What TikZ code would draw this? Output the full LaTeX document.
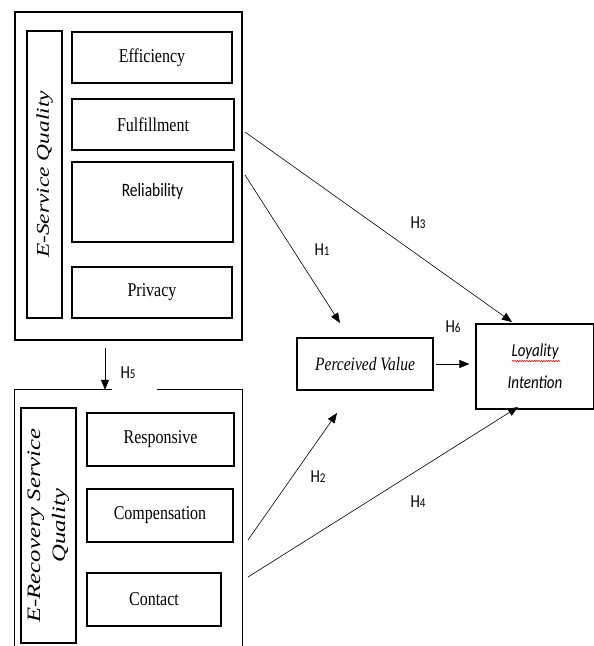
\documentclass[tikz,border=0pt]{standalone}
\usepackage{fontspec}
\setmainfont{Liberation Serif}
\newfontfamily\calibri{Carlito}
\usepackage{graphicx}
\usetikzlibrary{arrows.meta,positioning,calc,decorations.pathmorphing}

% text in the reference is drawn a little taller than wide
\newcommand{\tallt}[1]{\scalebox{1}[1.22]{#1}}
\newcommand{\widet}[1]{\scalebox{1.3}[1]{#1}}
\newcommand{\hyp}[1]{\tallt{\calibri\fontsize{15}{18}\selectfont H\fontsize{11}{12}\selectfont #1}}

\tikzset{
  box/.style={draw, line width=1.2pt, inner sep=0pt, font=\fontsize{16}{19}\selectfont},
  frame/.style={draw, line width=1.3pt, inner sep=0pt},
  frameline/.style={line width=1.3pt},
  link/.style={line width=0.6pt, -{Triangle[length=10pt,width=8pt]}},
}

\begin{document}
\begin{tikzpicture}[x=1pt, y=-1pt]
\useasboundingbox (0,0) rectangle (594,646);

% E-Service Quality block
\node[frame, minimum width=227pt, minimum height=328pt] (esq) at (128.5,176) {};
\node[box, rotate=90, minimum width=287pt, minimum height=35pt] (esqlab) at (44.5,174.5)
  {\widet{\fontsize{18}{20}\selectfont\itshape E-Service Quality}};
\node[box, minimum width=160pt, minimum height=51pt] (eff) at (152,57.5) {\tallt{Efficiency}};
\node[box, minimum width=162pt, minimum height=51pt] (ful) at (153,124.5) {\tallt{Fulfillment}};
\node[box, minimum width=161pt, minimum height=80pt, align=center] (rel) at (152.5,202)
  {\tallt{\calibri\fontsize{15.5}{18}\selectfont Reliability}\\[6pt]\mbox{}};
\node[box, minimum width=160pt, minimum height=51pt] (priv) at (152,292.5) {\tallt{Privacy}};

% E-Recovery Service Quality block (open at the top and the bottom)
\node[inner sep=0pt, minimum width=227pt, minimum height=270pt] (ersq) at (128.5,525) {};
\draw[frameline] ($(ersq.north west)+(97,0)$) -- (ersq.north west) -- (ersq.south west);
\draw[frameline] ($(ersq.north west)+(142,0)$) -- (ersq.north east) -- (ersq.south east);
\node[box, rotate=90, minimum width=235pt, minimum height=55pt, align=center,
  font=\fontsize{19}{25}\selectfont\itshape] (ersqlab) at (48.5,525.5)
  {\widet{E-Recovery Service}\\\widet{Quality}};
\node[box, minimum width=147pt, minimum height=53pt] (resp) at (160.5,439.5) {\tallt{Responsive}};
\node[box, minimum width=146pt, minimum height=53pt] (comp) at (160,515.5) {\tallt{Compensation}};
\node[box, minimum width=134pt, minimum height=53pt] (cont) at (154,599.5) {\tallt{Contact}};

% outcomes
\node[box, minimum width=136pt, minimum height=52pt] (pv) at (365,364)
  {\tallt{\fontsize{15.5}{18}\selectfont\itshape Perceived Value}};
\node[box, minimum width=118pt, minimum height=85pt, align=center,
  font=\calibri\itshape\fontsize{15}{32}\selectfont] (li) at (535,366.5)
  {\tallt{Loyality}\\\tallt{Intention}};
\draw[red, line width=0.5pt, decorate, decoration={snake, amplitude=0.7pt, segment length=2.4pt}]
  (512,361) -- (560,361);

% hypotheses
\coordinate (h1s) at (245,175);
\coordinate (h1e) at (340,323);
\coordinate (h2s) at (248,540);
\coordinate (h2e) at (337,413);
\coordinate (h3s) at (245,132);
\coordinate (h3e) at (512,322);
\coordinate (h4s) at (248,577);
\coordinate (h4e) at (518,407);
\coordinate (h5s) at (105,348);

\draw[link] (h1s) -- (h1e);
\draw[link] (h2s) -- (h2e);
\draw[link] (h3s) -- (h3e);
\draw[link] (h4s) -- (h4e);
\draw[link] (h5s) -- (h5s |- ersq.north);
\draw[link, shorten <=2pt, shorten >=6pt] (pv.east) -- (pv.east -| li.west);

\node (h1) at (322,250) {\hyp{1}};
\node (h2) at (318,477) {\hyp{2}};
\node (h3) at (418,223) {\hyp{3}};
\node (h4) at (418,502) {\hyp{4}};
\node (h5) at (128,373) {\hyp{5}};
\node (h6) at (453,327) {\hyp{6}};
\end{tikzpicture}
\end{document}
